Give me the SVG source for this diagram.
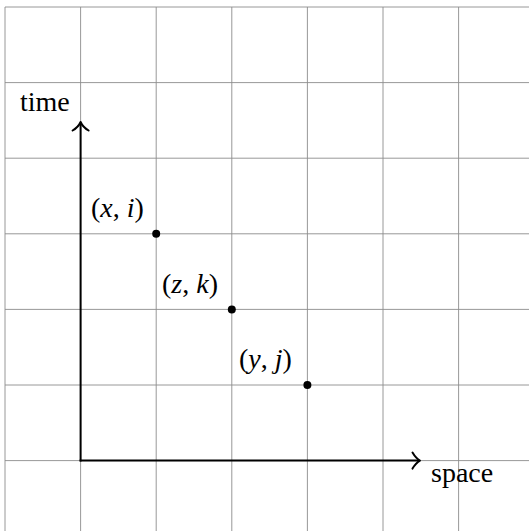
<svg xmlns="http://www.w3.org/2000/svg" width="529" height="531" viewBox="0 0 529 531">
<style>
.grid line{stroke:#8c8c8c;stroke-width:0.9}
.axis{stroke:#000;stroke-width:2;fill:none}
.head{stroke:#000;stroke-width:2;fill:none;stroke-linecap:round;stroke-linejoin:round}
</style>
<rect width="529" height="531" fill="#fff"/>
<g class="grid" id="grid">
<line x1="5" y1="7" x2="5" y2="531"/>
<line x1="80.6" y1="7" x2="80.6" y2="531"/>
<line x1="156.2" y1="7" x2="156.2" y2="531"/>
<line x1="231.8" y1="7" x2="231.8" y2="531"/>
<line x1="307.4" y1="7" x2="307.4" y2="531"/>
<line x1="383" y1="7" x2="383" y2="531"/>
<line x1="458.6" y1="7" x2="458.6" y2="531"/>
<line x1="5" y1="7" x2="529" y2="7"/>
<line x1="5" y1="82.6" x2="529" y2="82.6"/>
<line x1="5" y1="158.2" x2="529" y2="158.2"/>
<line x1="5" y1="233.8" x2="529" y2="233.8"/>
<line x1="5" y1="309.4" x2="529" y2="309.4"/>
<line x1="5" y1="385" x2="529" y2="385"/>
<line x1="5" y1="460.6" x2="529" y2="460.6"/>
</g>
<g id="connectors">
<path class="axis" d="M80.6,461.6 V123"/>
<path class="head" d="M72.6,130.5 Q78.5,127 80.6,122 Q82.7,127 88.6,130.5"/>
<path class="axis" d="M79.6,460.6 H419"/>
<path class="head" d="M412.5,452.6 Q416,458.5 420,460.6 Q416,462.7 412.5,468.6"/>
</g>
<g font-family="'Liberation Serif', 'DejaVu Serif', serif" font-size="28" fill="#000">
<g id="time-label"><text x="20" y="111">time</text></g>
<g id="space-label"><text x="431" y="482">space</text></g>
<g id="p-xi">
<circle cx="156.2" cy="233.8" r="4"/>
<text x="91" y="217">(<tspan font-style="italic">x</tspan>, <tspan font-style="italic">i</tspan>)</text>
</g>
<g id="p-zk">
<circle cx="231.8" cy="309.4" r="4"/>
<text x="162" y="292.5">(<tspan font-style="italic">z</tspan>, <tspan font-style="italic">k</tspan>)</text>
</g>
<g id="p-yj">
<circle cx="307.4" cy="385" r="4"/>
<text x="239" y="368">(<tspan font-style="italic">y</tspan>, <tspan font-style="italic">j</tspan>)</text>
</g>
</g>
</svg>
